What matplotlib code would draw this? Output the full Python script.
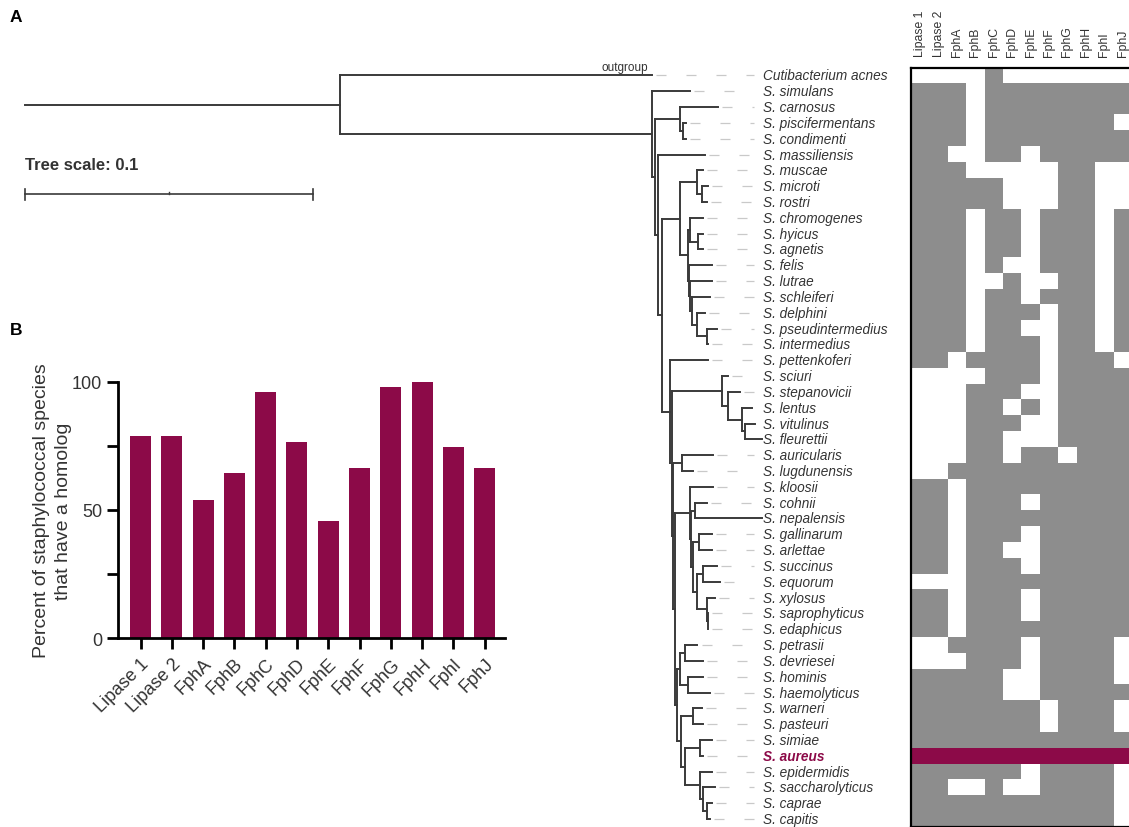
import numpy as np
import matplotlib.pyplot as plt
from matplotlib.colors import ListedColormap

plt.rcParams['font.family'] = ['Liberation Sans', 'DejaVu Sans']

MAROON = '#8c0a48'
GREY = '#8d8d8d'
INK = '#333333'

# ---------------- panel B: share of species with a homolog ----------------
genes = ['Lipase 1', 'Lipase 2', 'FphA', 'FphB', 'FphC', 'FphD',
         'FphE', 'FphF', 'FphG', 'FphH', 'FphI', 'FphJ']
percent_homolog = [79, 79, 54, 64.3, 95.8, 76.6, 45.6, 66.5, 97.8, 100, 74.7, 66.5]

# ---------------- panel A: tree (newick pieces, subst./site) ----------------
P = "(S. delphini:0.0028,(S. pseudintermedius:0.0035,S. intermedius:0.0003):0.0035)"
K2 = f"(S. felis:0.008,(S. lutrae:0.0076,(S. schleiferi:0.0063,{P}:0.0017):0.0007):0.0003)"
K1 = "(S. chromogenes:0.0045,(S. hyicus:0.0017,S. agnetis:0.0017):0.0028)"
M = "(S. muscae:0.0021,(S. microti:0.0021,S. rostri:0.0017):0.0017)"
E1 = f"({M}:0.0059,({K1}:0.0007,{K2}:0.0003):0.0028)"
Sc = ("(S. sciuri:0.0021,(S. stepanovicii:0.0042,(S. lentus:0.0035,"
      "(S. vitulinus:0.0035,S. fleurettii:0.0059):0.001):0.0049):0.0021)")
Au = "(S. auricularis:0.0108,S. lugdunensis:0.0038)"
L5 = ("((S. succinus:0.0049,S. equorum:0.0059):0.0021,(S. xylosus:0.0028,"
      "(S. saprophyticus:0.0001,S. edaphicus:0.0001):0.0003):0.0035)")
L4 = f"((S. gallinarum:0.0042,S. arlettae:0.0042):0.0024,{L5}:0.0014)"
L1 = f"(S. kloosii:0.008,((S. cohnii:0.0042,S. nepalensis:0.0233):0.0014,{L4}:0.0007):0.0003)"
Ho = "((S. petrasii:0.0045,S. devriesei:0.0063):0.0017,(S. hominis:0.0052,S. haemolyticus:0.0076):0.0028)"
Ep = ("((S. simiae:0.0042,S. aureus:0.001):0.0052,(S. epidermidis:0.0042,"
      "(S. saccharolyticus:0.0042,(S. caprae:0.0017,S. capitis:0.001):0.0014):0.001):0.0052)")
L2 = f"({Ho}:0.001,((S. warneri:0.0031,S. pasteuri:0.0035):0.0042,{Ep}:0.0014):0.0014)"
F = f"(S. pettenkoferi:0.0132,({Sc}:0.0174,({Au}:0.0031,({L1}:0.0052,{L2}:0.0007):0.0007):0.0003):0.0007)"
B = f"(S. massiliensis:0.0163,({E1}:0.0063,{F}:0.0028):0.0014)"
C1 = "(S. carnosus:0.0132,(S. piscifermentans:0.001,S. condimenti:0.001):0.001)"
STAPH = f"(S. simulans:0.0132,({C1}:0.0087,{B}:0.001):0.001)"
TREE = f"(Cutibacterium acnes:0.1083,{STAPH}:0.1083):0.1094;"

species = ['Cutibacterium acnes', 'S. simulans', 'S. carnosus', 'S. piscifermentans',
           'S. condimenti', 'S. massiliensis', 'S. muscae', 'S. microti', 'S. rostri',
           'S. chromogenes', 'S. hyicus', 'S. agnetis', 'S. felis', 'S. lutrae',
           'S. schleiferi', 'S. delphini', 'S. pseudintermedius', 'S. intermedius',
           'S. pettenkoferi', 'S. sciuri', 'S. stepanovicii', 'S. lentus', 'S. vitulinus',
           'S. fleurettii', 'S. auricularis', 'S. lugdunensis', 'S. kloosii', 'S. cohnii',
           'S. nepalensis', 'S. gallinarum', 'S. arlettae', 'S. succinus', 'S. equorum',
           'S. xylosus', 'S. saprophyticus', 'S. edaphicus', 'S. petrasii', 'S. devriesei',
           'S. hominis', 'S. haemolyticus', 'S. warneri', 'S. pasteuri', 'S. simiae',
           'S. aureus', 'S. epidermidis', 'S. saccharolyticus', 'S. caprae', 'S. capitis']

# 1 = homolog found, 0 = none, 2 = S. aureus reference row
presence = ['000010000000', '111011111111', '111011111111', '111011111110',
            '111011111111', '110011011111', '111000001100', '111110001100',
            '111110001100', '111011011101', '111011011101', '111011011101',
            '111010011101', '111001001101', '111011011101', '111011101101',
            '111011001101', '111011101101', '110111101110', '000011101111',
            '000111001111', '000110101111', '000111001111', '000110001111',
            '000110110111', '001111111111', '110111111111', '110111011111',
            '110111111111', '110111011111', '110110011111', '110111011111',
            '000111111111', '110111011111', '110111011111', '110111111111',
            '001111011110', '000111011110', '111110011110', '111110011111',
            '111111101110', '111111101110', '111111111111', '222222222222',
            '111111011110', '110010011110', '111111111110', '111111111110']


def parse_newick(s):
    pos = 0

    def node():
        nonlocal pos
        kids = []
        if s[pos] == '(':
            pos += 1
            while True:
                kids.append(node())
                ch = s[pos]
                pos += 1
                if ch == ')':
                    break
        start = pos
        while s[pos] not in ',();':
            pos += 1
        name, _, length = s[start:pos].partition(':')
        return {'name': name.strip(), 'len': float(length or 0), 'kids': kids}

    return node()


def layout(n, x0=0.0):
    n['x'] = x0 + n['len']
    if n['kids']:
        for c in n['kids']:
            layout(c, n['x'])
        n['y'] = (n['kids'][0]['y'] + n['kids'][-1]['y']) / 2
    else:
        n['y'] = species.index(n['name'])


def leaves(n):
    if not n['kids']:
        return [n]
    return [l for c in n['kids'] for l in leaves(c)]


fig = plt.figure(figsize=(11.29, 8.28), dpi=100)
W, H = 1129, 828
top_px = 68.5
px_per_unit = 2880.0   # 0.1 subst./site = 288 px

# ---------------- tree axes ----------------
ax_t = fig.add_axes([0, 0, 910 / W, (H - top_px) / H])
ax_t.set_xlim(-25 / px_per_unit, 885 / px_per_unit)
ax_t.set_ylim(len(species) - 0.5, -0.5)
ax_t.axis('off')

root = parse_newick(TREE)
layout(root)
line_kw = dict(color='#3a3a3a', lw=1.4, solid_capstyle='projecting')


def draw(n):
    for c in n['kids']:
        ax_t.plot([n['x'], c['x']], [c['y'], c['y']], **line_kw)
        draw(c)
    if n['kids']:
        ax_t.plot([n['x'], n['x']], [n['kids'][0]['y'], n['kids'][-1]['y']], **line_kw)


ax_t.plot([0, root['x']], [root['y'], root['y']], **line_kw)
draw(root)

label_x = (763 - 25) / px_per_unit
lead_end = (754 - 25) / px_per_unit
for leaf in leaves(root):
    y = leaf['y']
    if leaf['x'] + 0.002 < lead_end:
        ax_t.plot([leaf['x'] + 0.0015, lead_end], [y, y], color='#c9c9c9',
                  lw=0.9, ls=(0, (8, 16)))
    if leaf['name'] == 'S. aureus':
        ax_t.text(label_x, y, leaf['name'], fontsize=9.8, style='italic',
                  weight='bold', color=MAROON, va='center')
    else:
        ax_t.text(label_x, y, leaf['name'], fontsize=9.8, style='italic',
                  color=INK, va='center')
    if leaf['name'] == 'Cutibacterium acnes':
        ax_t.annotate('outgroup', xy=(leaf['x'], y), xytext=(-3, 2),
                      textcoords='offset points', ha='right', va='bottom',
                      fontsize=8.5, color=INK)

# tree scale bar
ys = 7.5
ax_t.text(0, 5.6, 'Tree scale: 0.1', fontsize=12, weight='bold', color=INK, va='center')
ax_t.plot([0, 0.1], [ys, ys], color='#3a3a3a', lw=1.2)
for xt in (0, 0.1):
    ax_t.plot([xt, xt], [ys - 0.35, ys + 0.35], color='#3a3a3a', lw=1.2)
ax_t.plot([0.05, 0.05], [ys, ys - 0.15], color='#3a3a3a', lw=1.0)

# ---------------- heatmap ----------------
ax_h = fig.add_axes([911 / W, 0, 12 * 18.4 / W, (H - top_px) / H])
grid = np.array([[int(ch) for ch in row] for row in presence])
ax_h.imshow(grid, cmap=ListedColormap(['white', GREY, MAROON]), vmin=0, vmax=2,
            aspect='auto', interpolation='nearest',
            extent=(-0.5, len(genes) - 0.5, len(species) - 0.5, -0.5))
ax_h.xaxis.tick_top()
ax_h.set_xticks(range(len(genes)))
ax_h.set_xticklabels(genes, rotation=90, fontsize=8.8, color=INK)
ax_h.tick_params(axis='x', length=0, pad=8)
ax_h.set_yticks([])
for side in ('left', 'top', 'bottom'):
    ax_h.spines[side].set_linewidth(1.6)
ax_h.spines['right'].set_visible(False)

# ---------------- bar chart ----------------
ax_b = fig.add_axes([118 / W, (H - 639.3) / H, (505 - 118) / W, (639.3 - 382.7) / H])
xpos = np.arange(len(genes))
ax_b.bar(xpos, percent_homolog, width=0.67, color=MAROON)
ax_b.set_xlim(-0.72, len(genes) - 0.35)
ax_b.set_ylim(0, 100)
ax_b.set_yticks([0, 50, 100])
ax_b.set_yticks([25, 75], minor=True)
ax_b.set_xticks(xpos)
ax_b.set_xticklabels(genes, rotation=45, ha='right', rotation_mode='anchor', fontsize=13)
ax_b.tick_params(axis='both', which='both', length=8, width=2, labelsize=13,
                 labelcolor=INK, direction='out')
ax_b.tick_params(axis='x', pad=4)
for side in ('top', 'right'):
    ax_b.spines[side].set_visible(False)
for side in ('left', 'bottom'):
    ax_b.spines[side].set_linewidth(2)
ax_b.set_ylabel('Percent of staphylococcal species\nthat have a homolog',
                fontsize=14, color=INK, linespacing=1.35)
ax_b.yaxis.set_label_coords(-0.119, 0.5)

fig.text(10 / W, 1 - 18 / H, 'A', fontsize=12.5, weight='bold', va='center')
fig.text(10 / W, 1 - 331 / H, 'B', fontsize=12.5, weight='bold', va='center')

fig.savefig('out.png', dpi=100)
